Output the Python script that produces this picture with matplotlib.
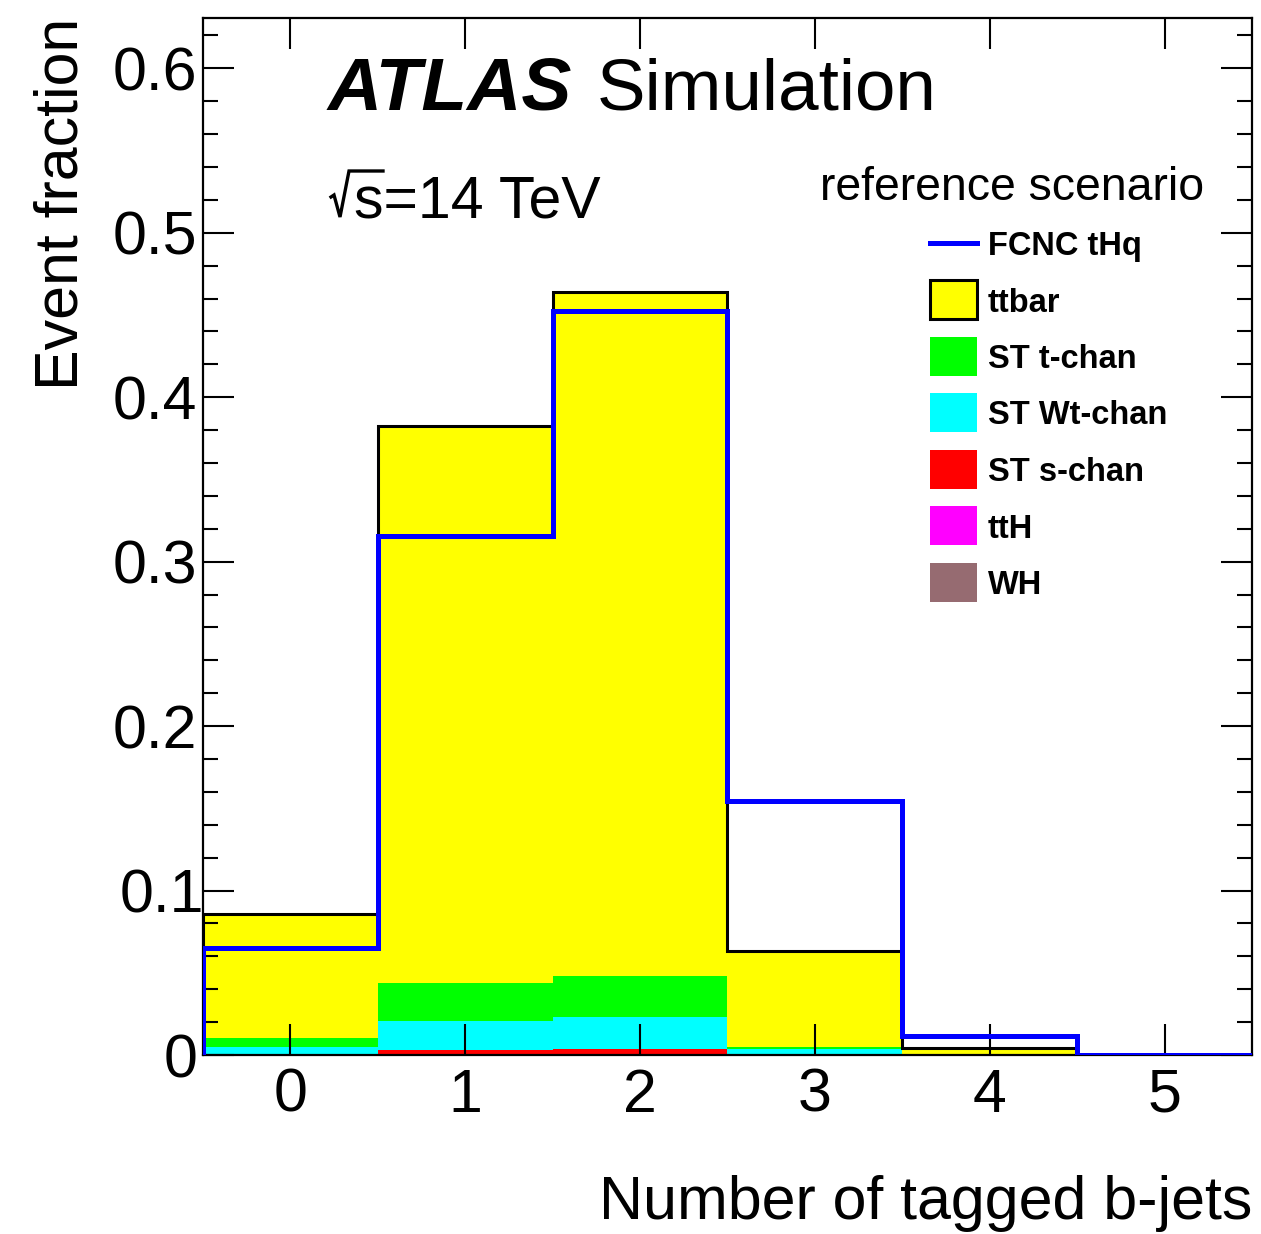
import numpy as np
import matplotlib
matplotlib.use("Agg")
import matplotlib.pyplot as plt
import matplotlib.transforms as mtransforms
from matplotlib.patches import Rectangle
from matplotlib.lines import Line2D
from matplotlib.ticker import MultipleLocator, FixedLocator

plt.rcParams['font.family'] = ['Liberation Sans', 'DejaVu Sans']

# Number of tagged b-jets, bins 0..5
n_bjets = [0, 1, 2, 3, 4, 5]
bin_edges = [-0.5, 0.5, 1.5, 2.5, 3.5, 4.5, 5.5]

# Background fractions (stacked, bottom to top)
wh        = [0.0, 0.0, 0.0, 0.0, 0.0, 0.0]
tth       = [0.0, 0.0, 0.0, 0.0, 0.0, 0.0]
st_schan  = [0.0003, 0.0030, 0.0035, 0.0002, 0.0, 0.0]
st_wtchan = [0.0046, 0.0175, 0.0194, 0.0033, 0.0001, 0.0]
st_tchan  = [0.0056, 0.0231, 0.0251, 0.0015, 0.0001, 0.0]
ttbar     = [0.0751, 0.3389, 0.4162, 0.0582, 0.0043, 0.0]

# Signal fraction
fcnc_thq  = [0.0652, 0.3156, 0.4526, 0.1545, 0.0116, 0.0]

stack_names  = ["WH", "ttH", "ST s-chan", "ST Wt-chan", "ST t-chan", "ttbar"]
stack_values = [wh, tth, st_schan, st_wtchan, st_tchan, ttbar]
stack_colors = ["#966b71", "#ff00ff", "#ff0000", "#00ffff", "#00ff00", "#ffff00"]

y_ticks = [0, 0.1, 0.2, 0.3, 0.4, 0.5, 0.6]
y_tick_labels = ["0", "0.1", "0.2", "0.3", "0.4", "0.5", "0.6"]

W, H = 1261, 1234
fig = plt.figure(figsize=(W / 100, H / 100), dpi=100)
ax = fig.add_axes([203 / W, 1 - 1055 / H, (1252 - 203) / W, (1055 - 18) / H])

edges = np.array(bin_edges)
base = np.zeros(len(n_bjets))
for vals, col in zip(stack_values, stack_colors):
    top = base + np.array(vals)
    ax.stairs(top, edges, baseline=base, fill=True, color=col, linewidth=0, zorder=1)
    base = top

# Outline of the full stack (ttbar on top, black line)
ax.stairs(base, edges, baseline=0, fill=False, color="black", linewidth=2.2, zorder=2)
# Signal
ax.stairs(np.array(fcnc_thq), edges, baseline=0, fill=False, color="#0000ff",
          linewidth=3.6, zorder=3)

ax.set_xlim(-0.5, 5.5)
ax.set_ylim(0, 0.6306)
ax.set_axisbelow(False)

ax.xaxis.set_major_locator(FixedLocator(n_bjets))
ax.set_xticklabels([str(v) for v in n_bjets])
ax.yaxis.set_minor_locator(MultipleLocator(0.02))
ax.set_yticks(y_ticks)
ax.set_yticklabels(y_tick_labels)

ax.tick_params(which="both", direction="in", top=True, right=True, width=1.5,
               labelsize=43.8, colors="black")
ax.tick_params(which="major", length=22.5)
ax.tick_params(which="minor", length=11)
ax.tick_params(axis="y", pad=4)
ax.tick_params(axis="x", pad=9)
for s in ax.spines.values():
    s.set_linewidth(1.6)

# the "0.1" label sits slightly closer to the axis
lbl = ax.get_yticklabels()[1]
lbl.set_transform(lbl.get_transform() +
                  mtransforms.ScaledTranslation(7 / 100, 0, fig.dpi_scale_trans))


def fx(px):
    return px / W


def fy(py):
    return 1 - py / H


fig.text(fx(1252), fy(1219), "Number of tagged b-jets", ha="right", va="baseline",
         fontsize=43.8)
fig.text(fx(78), fy(18), "Event fraction", ha="right", va="baseline", rotation=90,
         rotation_mode="anchor", fontsize=43.8)

fig.text(fx(328), fy(110), "ATLAS", fontsize=54, fontweight="bold", fontstyle="italic",
         ha="left", va="baseline")
fig.text(fx(597), fy(110), "Simulation", fontsize=52.5, ha="left", va="baseline")

# sqrt(s) = 14 TeV, radical drawn as a polyline
fig.add_artist(Line2D([fx(331), fx(334), fx(340), fx(349), fx(383)],
                      [fy(197), fy(195), fy(217), fy(171), fy(171)],
                      color="black", linewidth=2.4, solid_joinstyle="miter",
                      transform=fig.transFigure))
fig.text(fx(354), fy(217), "s=14 TeV", fontsize=42.5, ha="left", va="baseline")
fig.text(fx(820), fy(200), "reference scenario", fontsize=33.4, ha="left", va="baseline")

# Legend
leg_names = ["FCNC tHq", "ttbar", "ST t-chan", "ST Wt-chan", "ST s-chan", "ttH", "WH"]
leg_colors = ["#0000ff", "#ffff00", "#00ff00", "#00ffff", "#ff0000", "#ff00ff", "#966b71"]
row0, row_step = 243, 56.5
for i, (name, col) in enumerate(zip(leg_names, leg_colors)):
    cy = row0 + i * row_step
    if i == 0:
        fig.add_artist(Line2D([fx(930), fx(977)], [fy(cy), fy(cy)], color=col,
                              linewidth=3.6, transform=fig.transFigure))
    else:
        ec = "black" if name == "ttbar" else col
        lw = 2.2 if name == "ttbar" else 0
        fig.add_artist(Rectangle((fx(930), fy(cy + 19.5)), 47 / W, 39 / H,
                                 facecolor=col, edgecolor=ec, linewidth=lw,
                                 transform=fig.transFigure))
    fig.text(fx(988), fy(cy + 12), name, fontsize=23.5, fontweight="bold",
             ha="left", va="baseline")

fig.savefig("out.png", dpi=100)
